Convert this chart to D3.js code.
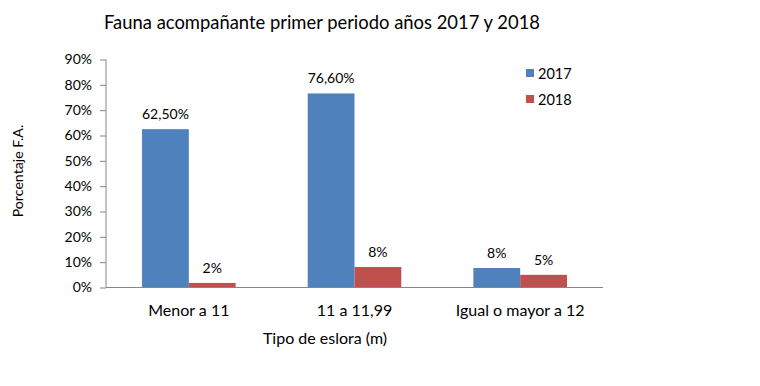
<!DOCTYPE html>
<html><head><meta charset="utf-8">
<script src="https://cdn.jsdelivr.net/npm/d3@7/dist/d3.min.js"></script>
<style>
body{margin:0;background:#fff;}
text{font-family:Lato,"Open Sans",sans-serif;fill:#000;}
</style></head>
<body><svg id="c" width="760" height="386"></svg>
<script>
const categories = ["Menor a 11", "11 a 11,99", "Igual o mayor a 12"];
const seriesNames = ["2017", "2018"];
const values2017 = [0.625, 0.766, 0.077];
const values2018 = [0.018, 0.081, 0.05];
const labels2017 = ["62,50%", "76,60%", "8%"];
const labels2018 = ["2%", "8%", "5%"];
const yTicks = [0,0.1,0.2,0.3,0.4,0.5,0.6,0.7,0.8,0.9];
const colors = ["#4F81BD", "#C0504D"];
const title = "Fauna acompañante primer periodo años 2017 y 2018";
const xTitle = "Tipo de eslora (m)";
const yTitle = "Porcentaje F.A.";

const svg = d3.select("#c");
const m = {l:106, r:157, t:59.5, b:98.5};
const W = 760 - m.l - m.r, H = 386 - m.t - m.b;
const g = svg.append("g").attr("transform",`translate(${m.l},${m.t})`);

const x0 = d3.scaleBand().domain(categories).range([0,W]).paddingInner(0.435).paddingOuter(0.2175);
const x1 = d3.scaleBand().domain(seriesNames).range([0,x0.bandwidth()]);
const y = d3.scaleLinear().domain([0,0.9]).range([H,0]);

const series = [values2017, values2018];
const labs = [labels2017, labels2018];

// y axis
const ya = g.append("g").call(d3.axisLeft(y).tickValues(yTicks).tickFormat(d3.format(".0%")).tickSize(6).tickPadding(8));
ya.selectAll("path,line").attr("stroke","#868686");
ya.select(".domain").attr("d",`M0,${H}V0`);
ya.selectAll("text").style("font-size","14px").attr("fill","#000");

// bars
seriesNames.forEach((s,i)=>{
  g.selectAll(".b"+i).data(categories).enter().append("rect")
    .attr("x",d=>x0(d)+x1(s)).attr("width",x1.bandwidth())
    .attr("y",(d,j)=>y(series[i][j])).attr("height",(d,j)=>H-y(series[i][j]))
    .attr("fill",colors[i]);
  g.selectAll(".l"+i).data(categories).enter().append("text")
    .attr("x",d=>x0(d)+x1(s)+x1.bandwidth()/2)
    .attr("y",(d,j)=>y(series[i][j])-10)
    .attr("text-anchor","middle").style("font-size","14px")
    .text((d,j)=>labs[i][j]);
});

// x axis
const xa = g.append("g").attr("transform",`translate(0,${H})`).call(d3.axisBottom(x0).tickSize(0).tickPadding(17));
xa.select(".domain").attr("stroke","#868686").attr("d",`M0,0H${W}`);
xa.selectAll("text").style("font-size","16px").attr("fill","#000");

// titles
svg.append("text").attr("x",322).attr("y",29).attr("text-anchor","middle").style("font-size","18.4px").text(title);
svg.append("text").attr("x",325).attr("y",344).attr("text-anchor","middle").style("font-size","16px").text(xTitle);
svg.append("text").attr("transform","translate(23,171) rotate(-90)").attr("text-anchor","middle").style("font-size","14.2px").text(yTitle);

// legend
seriesNames.forEach((s,i)=>{
  const ly = 74 + i*26;
  svg.append("rect").attr("x",526).attr("y",ly-5).attr("width",8).attr("height",8).attr("fill",colors[i]);
  svg.append("text").attr("x",538).attr("y",ly+5).style("font-size","14.5px").text(s);
});
</script></body></html>
